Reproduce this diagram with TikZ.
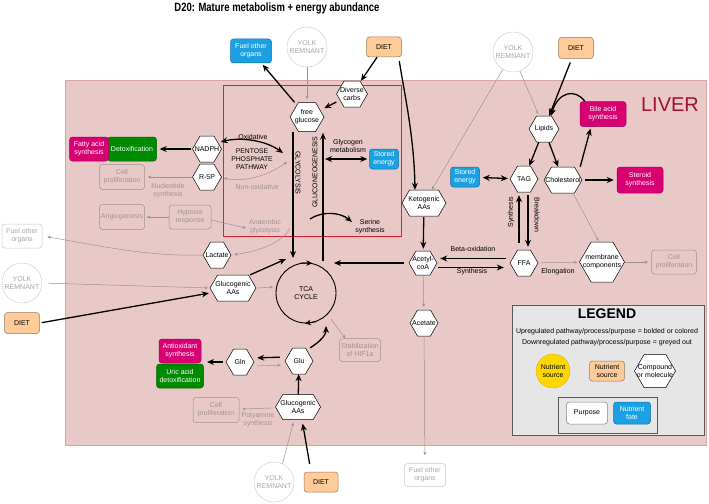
\documentclass[tikz,border=0pt]{standalone}
\usepackage{fontspec}
\setmainfont{Liberation Sans}
\usetikzlibrary{arrows.meta}
\definecolor{liverfill}{RGB}{233,200,200}
\definecolor{liverline}{RGB}{215,165,165}
\definecolor{pppred}{RGB}{220,35,45}
\definecolor{nblue}{RGB}{27,161,226}
\definecolor{nbluel}{RGB}{16,110,170}
\definecolor{nmag}{RGB}{216,0,115}
\definecolor{nmagl}{RGB}{165,0,85}
\definecolor{ngreen}{RGB}{0,138,0}
\definecolor{ngreenl}{RGB}{0,95,0}
\definecolor{norange}{RGB}{255,204,153}
\definecolor{norangel}{RGB}{150,120,90}
\definecolor{nyellow}{RGB}{255,215,0}
\definecolor{fadetx}{RGB}{160,148,148}
\definecolor{fadeln}{RGB}{160,145,145}
\definecolor{outtx}{RGB}{165,165,165}
\definecolor{outln}{RGB}{200,200,200}
\definecolor{livertx}{RGB}{165,15,45}
\definecolor{leggray}{RGB}{230,230,230}
\definecolor{legline}{RGB}{90,90,90}
\newcommand\fsn{\fontsize{7}{8.3}\selectfont}
\newcommand\hexn[7][]{%
  \pgfmathsetmacro\hxw{#5/2}%
  \pgfmathsetmacro\hxh{#6/2}%
  \pgfmathsetmacro\hxc{#6*0.29}%
  \draw[hexline,#1] (#3-\hxw,#4) -- (#3-\hxw+\hxc,#4-\hxh) -- (#3+\hxw-\hxc,#4-\hxh) -- (#3+\hxw,#4) -- (#3+\hxw-\hxc,#4+\hxh) -- (#3-\hxw+\hxc,#4+\hxh) -- cycle;
  \node[hextext,minimum width=#5pt,minimum height=#6pt] (#2) at (#3,#4) {#7};
}
\tikzset{
 bigtip/.tip={Stealth[length=7pt,width=6pt]},
 smalltip/.tip={Stealth[length=3.5pt,width=3pt]},
 thk/.style={draw=black,line width=1.3pt,-bigtip},
 thkd/.style={draw=black,line width=1.3pt,bigtip-bigtip},
 gry/.style={draw=fadeln,line width=0.5pt,-smalltip},
 gryd/.style={draw=fadeln,line width=0.5pt,smalltip-smalltip},
 nbox/.style={rectangle,rounded corners=3pt,align=center,inner sep=0.5pt,font=\fsn,line width=0.5pt},
 blueb/.style={nbox,fill=nblue,draw=nbluel,text=white},
 magb/.style={nbox,fill=nmag,draw=nmagl,text=white},
 greenb/.style={nbox,fill=ngreen,draw=ngreenl,text=white},
 orangeb/.style={nbox,fill=norange,draw=norangel,text=black},
 fadeb/.style={nbox,draw=fadeln,text=fadetx},
 outb/.style={nbox,draw=outln,fill=white,text=outtx},
 yolk/.style={circle,draw=outln,fill=white,text=outtx,minimum size=40pt,inner sep=0pt,align=center,font=\fsn},
 hexline/.style={draw=black,fill=white,line width=0.5pt},
 hextext/.style={rectangle,inner sep=0pt,align=center,font=\fsn},
 lbl/.style={align=center,font=\fsn,inner sep=0pt},
 fadelbl/.style={lbl,text=fadetx},
}
\begin{document}
\begin{tikzpicture}[x=1pt,y=-1pt]
\useasboundingbox (0,0) rectangle (709,503);
% regions
\filldraw[fill=liverfill,draw=liverline,line width=0.5pt] (65,80) rectangle (706,445);
\draw[pppred,line width=1pt] (223,85) rectangle (401,236);
\node[font=\fontsize{20}{22}\selectfont,text=livertx] (liverlbl) at (670,105) {LIVER};
\node[font=\fontsize{12}{14}\selectfont\bfseries,xscale=0.79] (title) at (277,8) {D20: Mature metabolism + energy abundance};

% top
\node[blueb,minimum width=41pt,minimum height=24pt] (fuelT) at (251,51) {Fuel other\\organs};
\node[yolk] (yolkT) at (307,47) {YOLK\\REMNANT};
\node[orangeb,minimum width=35pt,minimum height=20pt] (dietT) at (384,47) {DIET};
\hexn{carbs}{352}{94}{31}{26}{Diverse\\carbs}
\hexn{glc}{307}{117}{34}{29}{free\\glucose}
\node[yolk] (yolkR) at (513,52) {YOLK\\REMNANT};
\node[orangeb,minimum width=35pt,minimum height=21pt] (dietR) at (576,48) {DIET};
\node[magb,minimum width=46pt,minimum height=25pt] (bile) at (603,114) {Bile acid\\synthesis};

% lipids area
\hexn{lipids}{544}{129}{30}{26}{Lipids}
\hexn{tag}{524}{179}{28}{26}{TAG}
\hexn{chol}{563}{180}{38}{26}{Cholesterol}
\node[magb,minimum width=46pt,minimum height=26pt] (steroid) at (640,180) {Steroid\\synthesis};
\node[blueb,minimum width=29pt,minimum height=20pt] (storedR) at (465,177) {Stored\\energy};
\hexn{ffa}{524}{263}{28}{26}{FFA}
\hexn{acoa}{423}{263}{28}{24}{Acetyl-\\coA}
\hexn{keto}{424}{203}{44}{26}{Ketogenic\\AAs}
\hexn{memb}{602}{262}{45}{40}{membrane\\components}
\node[fadeb,minimum width=45pt,minimum height=24pt] (cellR) at (674,262) {Cell\\proliferation};
\hexn{acetate}{424}{323}{28}{26}{Acetate}
\node[outb,minimum width=41pt,minimum height=23pt] (fuelB) at (425,475) {Fuel other\\organs};

% centre
\node[circle,draw,line width=0.9pt,minimum size=60pt,inner sep=0pt,align=center,font=\fsn] (tca) at (306,293) {TCA\\CYCLE};
\node[blueb,minimum width=29pt,minimum height=20pt] (storedG) at (384,159) {Stored\\energy};
\hexn{nadph}{207}{149}{29}{26}{NADPH}
\hexn{r5p}{207}{177}{29}{26}{R-5P}
\node[greenb,minimum width=49pt,minimum height=24pt] (detox) at (132,149) {Detoxification};
\node[magb,minimum width=39pt,minimum height=24pt] (fas) at (89,149) {Fatty acid\\synthesis};
\node[fadeb,minimum width=45pt,minimum height=25pt] (cellL) at (122,177) {Cell\\proliferation};
\node[fadeb,minimum width=45pt,minimum height=25pt] (angio) at (122,217) {Angiogenesis};
\node[fadeb,minimum width=42pt,minimum height=24pt] (hypoxia) at (190,217) {Hypoxia\\response};
\hexn{lactate}{217}{255}{28}{26}{Lactate}
\node[outb,minimum width=40pt,minimum height=24pt] (fuelL) at (22,236) {Fuel other\\organs};
\node[yolk] (yolkL) at (22,283) {YOLK\\REMNANT};
\hexn{glucA}{233}{288}{46}{26}{Glucogenic\\AAs}
\node[orangeb,minimum width=35pt,minimum height=21pt] (dietL) at (22,323) {DIET};
\node[fadeb,minimum width=41pt,minimum height=23pt] (hif) at (360,350) {Stabilization\\of HIF1a};
\hexn{glu}{299}{361}{28}{26}{Glu}
\hexn{gln}{240}{362}{28}{26}{Gln}
\node[magb,minimum width=42pt,minimum height=24pt] (antiox) at (180,351) {Antioxidant\\synthesis};
\node[greenb,minimum width=47pt,minimum height=24pt] (uric) at (180,376) {Uric acid\\detoxification};
\hexn{glucB}{298}{407}{45}{25}{Glucogenic\\AAs}
\node[fadeb,minimum width=46pt,minimum height=25pt] (cellB) at (216,410) {Cell\\proliferation};
\node[yolk] (yolkB) at (274,482) {YOLK\\REMNANT};
\node[orangeb,minimum width=34pt,minimum height=20pt] (dietB) at (321,482) {DIET};

% labels
\node[lbl,font=\fontsize{6.8}{8}\selectfont] (ppp) at (252,159) {PENTOSE\\PHOSPHATE\\PATHWAY};
\node[lbl] (oxl) at (253,137) {Oxidative};
\node[fadelbl] (noxl) at (257,187) {Non-oxidative};
\node[fadelbl] (nucl) at (168,191) {Nucleotide\\synthesis};
\node[lbl,rotate=-90] (glyl) at (298,173) {GLYCOLYSIS};
\node[lbl,rotate=90] (gngl) at (315,172) {GLUCONEOGENESIS};
\node[lbl] (gcgl) at (348,146) {Glycogen\\metabolism};
\node[lbl] (serl) at (370,227) {Serine\\synthesis};
\node[fadelbl] (anal) at (265,227) {Anaerobic\\glycolysis};
\node[lbl] (betal) at (473,249) {Beta-oxidation};
\node[lbl] (synl) at (472,272) {Synthesis};
\node[lbl] (elol) at (558,272) {Elongation};
\node[lbl,rotate=90] (syn2l) at (511,212) {Synthesis};
\node[lbl,rotate=-90] (brkl) at (537,215) {Breakdown};
\node[fadelbl] (polyl) at (258,420) {Polyamine\\synthesis};

% coordinates for free ends
\coordinate (gly1) at (293,258);
\coordinate (gng1) at (323,261);
\coordinate (gcg) at (325,159);
\coordinate (tcaE) at (334,263);
\coordinate (tcaNW) at (286,259);
\coordinate (tcaW) at (273,287);
\coordinate (tcaS) at (326,326);
\coordinate (ser1) at (310,219);
\coordinate (ser2) at (352,222);
\coordinate (oxR) at (283,153);
\coordinate (noxR) at (287,162);
\coordinate (anaL) at (246,228);
\coordinate (anaR) at (290,228);
\coordinate (gx) at (207,362);

% TCA arrowheads
\draw[line width=0.9pt,-{Stealth[length=6pt,width=5.5pt]}] (tca.100) -- (tca.78);
\draw[line width=0.9pt,-{Stealth[length=6pt,width=5.5pt]}] (tca.-70) -- (tca.-92);

% thick connectors
\draw[thk,shorten >=2pt] (glc) -- (fuelT);
\draw[thk] (dietT) -- (carbs);
\draw[thk] (carbs) -- (glc);
\draw[thk,shorten <=4pt] ([xshift=-3pt]dietT.south east) .. controls (404,92) and (414,135) .. ([xshift=-9pt]keto.north);
\draw[thk,shorten <=4pt] (dietR) -- (lipids);
\draw[thk] ([xshift=5pt]bile.north west) .. controls (575,88) and (558,92) .. ([xshift=7pt]lipids.north);
\draw[thk] (lipids) -- (tag);
\draw[thk] (lipids) -- (chol);
\draw[thk,shorten >=2pt] ([xshift=-2pt]chol.north east) -- ([xshift=-12pt]bile.south);
\draw[thk,shorten <=3pt,shorten >=3pt] (chol) -- (steroid);
\draw[thkd,shorten <=3pt,shorten >=2pt] (storedR) -- (tag);
\draw[thk,shorten <=7pt,shorten >=3pt] ([xshift=-5pt]ffa.north) -- ([xshift=-5pt]tag.south);
\draw[thk,shorten <=3pt,shorten >=3pt] ([xshift=4pt]tag.south) -- ([xshift=4pt]ffa.north);
\draw[thk,shorten <=4pt,shorten >=3pt] ([yshift=4.5pt]ffa.west) -- ([yshift=4.5pt]acoa.east);
\draw[thk,shorten <=1pt,shorten >=6pt] ([yshift=-4.5pt]acoa.east) -- ([yshift=-4.5pt]ffa.west);
\draw[thk,shorten <=1pt,shorten >=2pt] (keto) -- (acoa);
\draw[thk,shorten <=5pt] (acoa.west) -- (tcaE);
\draw[thk] (glc.south -| gly1) -- (gly1);
\draw[thk,shorten >=1pt] (gng1) -- (glc.south -| gng1);
\draw[thkd,shorten >=2pt] (gcg) -- (storedG.west);
\draw[thkd] ([xshift=-1pt,yshift=7pt]nadph.east) .. controls (240,137) and (265,140) .. (oxR);
\draw[thk,shorten <=1pt,shorten >=3pt] (nadph) -- (detox);
\draw[thk] (ser1) .. controls (322,211) and (340,212) .. (ser2);
\draw[thk,shorten <=2pt,shorten >=1pt] (dietL.east) -- ([yshift=-5pt]glucA.west);
\draw[thk] ([xshift=-6pt]glucA.north east) -- (tcaNW);
\draw[thk] ([xshift=-3pt]glu.north east) .. controls (318,343) and (326,336) .. (tcaS);
\draw[thk,shorten <=5pt,shorten >=3pt] ([yshift=4pt]glu.west) -- ([yshift=4pt]gln.east);
\draw[thk,shorten <=3pt] (gln.west) -- (gx);
\draw[thk] (glucB) -- (glu);
\draw[thk,shorten <=8pt,shorten >=4pt] ([xshift=-10pt]dietB.north) -- ([xshift=4pt]glucB.south);

% grey connectors
\draw[gry,shorten >=3pt] (yolkT) -- (glc);
\draw[gry] (yolkR) -- (keto);
\draw[gry,shorten >=2pt] (yolkR.-70) -- ([xshift=-5pt]lipids.north);
\draw[gry,shorten <=3pt,shorten >=2pt] (ffa) -- (memb);
\draw[gry,shorten >=1pt] ([xshift=10pt]chol.south) -- ([xshift=-3pt]memb.north);
\draw[gry,shorten >=3pt] (memb) -- (cellR);
\draw[gry,shorten >=3pt] (acoa) -- (acetate);
\draw[gry,shorten >=8pt] (acetate) -- (fuelB);
\draw[gry,shorten >=3pt] (r5p) -- (cellL);
\draw[gry,shorten >=2pt] (hypoxia) -- (angio);
\draw[gry] ([yshift=-3pt]hypoxia.east) -- (anaL);
\draw[gry,shorten >=3pt] (anaR) .. controls (282,244) and (255,252) .. (lactate.east);
\draw[gry,shorten >=5pt] (lactate.west) .. controls (150,257) and (95,245) .. (fuelL.east);
\draw[gryd] (noxR) .. controls (265,178) and (240,182) .. ([xshift=2pt,yshift=-1pt]r5p.east);
\draw[gry,shorten <=6pt,shorten >=2pt] (yolkL.east) -- (glucA.west);
\draw[gry] ([xshift=2pt]glucA.east) -- (tcaW);
\draw[gry,shorten <=6pt] (tca.-45) -- ([xshift=6pt]hif.north west);
\draw[gry,shorten <=3pt,shorten >=4pt] ([yshift=-4pt]gln.east) -- ([yshift=-4pt]glu.west);
\draw[gry,shorten <=3pt,shorten >=3pt] (glucB) -- (cellB);
\draw[gry,shorten >=3pt] (yolkB.65) -- ([xshift=-4pt]glucB.south);

% legend
\filldraw[fill=leggray,draw=legline,line width=0.7pt] (512,305) rectangle (704,435);
\node[font=\fontsize{14}{16}\selectfont\bfseries,inner sep=0pt] (legtitle) at (607,313.5) {LEGEND};
\node[lbl] (leg1) at (607,332) {Upregulated pathway/process/purpose = bolded or colored};
\node[lbl] (leg2) at (607,343) {Downregulated pathway/process/purpose = greyed out};
\node[circle,fill=nyellow,draw=nyellow!85!black,minimum size=34pt,inner sep=0pt,align=center,font=\fsn] (legy) at (553,371) {Nutrient\\source};
\node[orangeb,minimum width=35pt,minimum height=20pt] (lego) at (607,371) {Nutrient\\source};
\hexn{legh}{655}{371}{41}{33}{Compound\\or molecule}
\filldraw[fill=leggray,draw=legline,line width=0.7pt] (558,397) rectangle (657,433);
\node[nbox,fill=white,draw=gray,minimum width=41pt,minimum height=22pt] (legp) at (587,413) {Purpose};
\node[blueb,minimum width=37pt,minimum height=22pt] (legf) at (632,413) {Nutrient\\fate};
\end{tikzpicture}
\end{document}
